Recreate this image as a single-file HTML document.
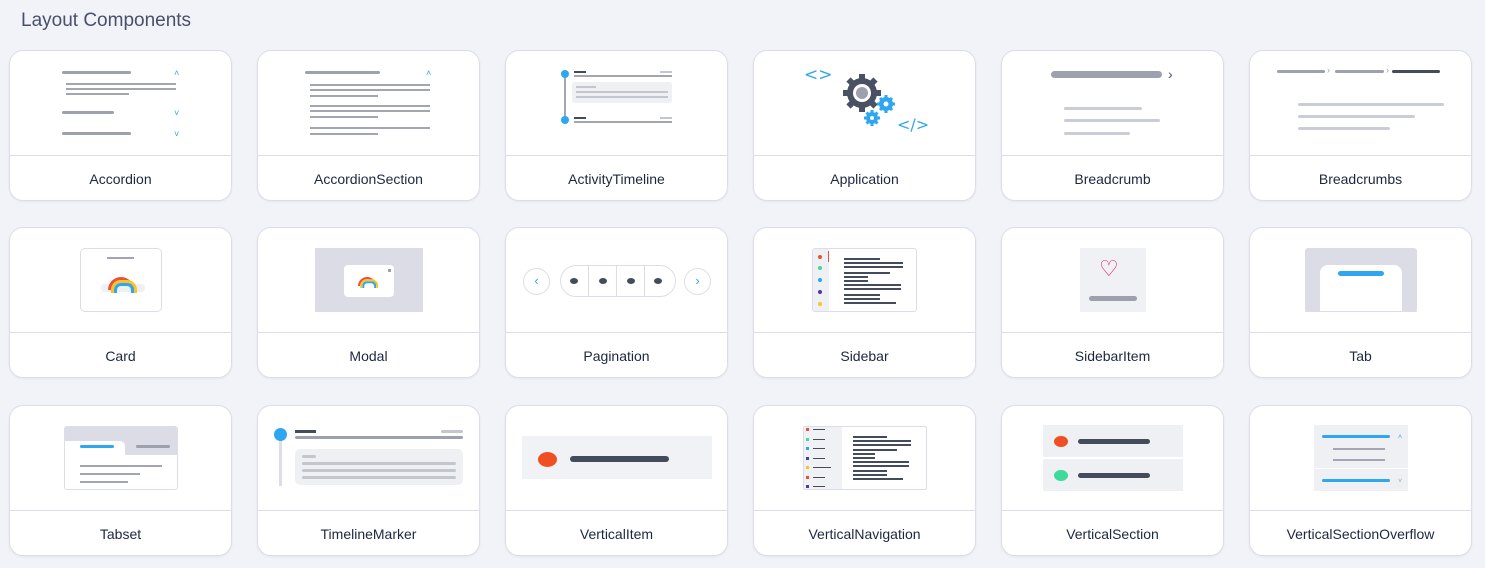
<!DOCTYPE html>
<html><head><meta charset="utf-8"><style>
*{margin:0;padding:0;box-sizing:border-box}
body{width:1485px;height:568px;background:#f1f3f8;font-family:"Liberation Sans",sans-serif;position:relative;overflow:hidden}
h1{position:absolute;left:21px;top:10px;font-size:19px;font-weight:normal;color:#48516a}
.c{position:absolute;width:223px;height:151px;background:#fff;border:1px solid #dcdde8;border-radius:14px;box-shadow:0 1px 2px rgba(0,0,0,.06)}
.c .d{position:absolute;left:0;right:0;top:104px;border-top:1px solid #dcdde8}
.c .l{position:absolute;left:0;right:0;top:120px;text-align:center;font-size:14px;color:#1d2740}
.r{position:absolute}
.g{position:absolute;height:3px;background:#9da0ad;border-radius:2px}
.t{position:absolute;height:2px;background:#a3a6b2}
.k{position:absolute;height:2px;background:#444c5c}
.b{position:absolute;color:#2ea7f0;font-size:9px;line-height:9px}
.rb{position:absolute;width:26px;height:13px;border-radius:13px 13px 0 0;border:3px solid #f04e36;border-bottom:0}
.rb:before{content:"";position:absolute;left:0;top:0;width:20px;height:10px;border-radius:10px 10px 0 0;border:3px solid #f7c524;border-bottom:0}
.rb:after{content:"";position:absolute;left:3px;top:3px;width:14px;height:7px;border-radius:7px 7px 0 0;border:3px solid #2ea7f0;border-bottom:0}
</style></head><body>
<h1>Layout Components</h1>

<!-- Row 1 -->
<div class="c" style="left:9px;top:50px">
<div class="g" style="left:52px;width:69px;top:20px"></div><div class="b" style="left:164px;top:18px">˄</div>
<div class="t" style="left:56px;width:110px;top:32px"></div><div class="t" style="left:56px;width:110px;top:37px"></div><div class="t" style="left:56px;width:63px;top:42px"></div>
<div class="g" style="left:52px;width:52px;top:60px"></div><div class="b" style="left:164px;top:58px">˅</div>
<div class="g" style="left:52px;width:69px;top:81px"></div><div class="b" style="left:164px;top:79px">˅</div>
<div class="d"></div><div class="l">Accordion</div></div>

<div class="c" style="left:257px;top:50px">
<div class="g" style="left:47px;width:75px;top:20px"></div><div class="b" style="left:168px;top:18px">˄</div>
<div class="t" style="left:52px;width:120px;top:33px"></div><div class="t" style="left:52px;width:120px;top:38px"></div><div class="t" style="left:52px;width:68px;top:44px"></div>
<div class="t" style="left:52px;width:120px;top:54px"></div><div class="t" style="left:52px;width:120px;top:59px"></div><div class="t" style="left:52px;width:68px;top:65px"></div>
<div class="t" style="left:52px;width:120px;top:76px"></div><div class="t" style="left:52px;width:68px;top:82px"></div>
<div class="d"></div><div class="l">AccordionSection</div></div>

<div class="c" style="left:505px;top:50px">
<div class="r" style="left:58px;top:22px;width:2px;height:48px;background:#a3a6b2"></div>
<div class="r" style="left:55px;top:19px;width:8px;height:8px;border-radius:50%;background:#2ea7f0"></div>
<div class="r" style="left:55px;top:65px;width:8px;height:8px;border-radius:50%;background:#2ea7f0"></div>
<div class="k" style="left:68px;width:12px;top:20px"></div><div class="t" style="left:68px;width:98px;top:24px"></div>
<div class="t" style="left:154px;width:12px;top:20px;background:#c4c6ce"></div>
<div class="r" style="left:66px;top:31px;width:100px;height:21px;background:#eef0f4;border-radius:3px"></div>
<div class="t" style="left:70px;width:20px;top:35px;background:#c4c6ce"></div><div class="t" style="left:70px;width:92px;top:40px;background:#c4c6ce"></div><div class="t" style="left:70px;width:92px;top:45px;background:#c4c6ce"></div>
<div class="k" style="left:68px;width:12px;top:66px"></div><div class="t" style="left:68px;width:98px;top:70px"></div>
<div class="t" style="left:154px;width:12px;top:66px;background:#c4c6ce"></div>
<div class="d"></div><div class="l">ActivityTimeline</div></div>

<div class="c" style="left:753px;top:50px">
<div class="r" style="left:50px;top:14px;color:#2ea7f0;font-size:17px;font-family:'DejaVu Sans',sans-serif">&lt;&gt;</div>
<svg class="r" style="left:86px;top:20px" width="60" height="60" viewBox="0 0 60 60">
<g fill="#4a5162"><circle cx="22" cy="22" r="15"/>
<g stroke="#4a5162" stroke-width="6"><line x1="22" y1="3" x2="22" y2="41"/><line x1="3" y1="22" x2="41" y2="22"/><line x1="8.5" y1="8.5" x2="35.5" y2="35.5"/><line x1="35.5" y1="8.5" x2="8.5" y2="35.5"/></g></g>
<circle cx="22" cy="22" r="9" fill="#fff"/><circle cx="22" cy="22" r="6" fill="#9da0ad"/>
<g fill="#2ea7f0"><circle cx="46" cy="33" r="7"/><g stroke="#2ea7f0" stroke-width="3"><line x1="46" y1="24" x2="46" y2="42"/><line x1="37" y1="33" x2="55" y2="33"/><line x1="40" y1="27" x2="52" y2="39"/><line x1="52" y1="27" x2="40" y2="39"/></g>
<circle cx="32" cy="47" r="6"/><g stroke="#2ea7f0" stroke-width="3"><line x1="32" y1="39" x2="32" y2="55"/><line x1="24" y1="47" x2="40" y2="47"/><line x1="26.5" y1="41.5" x2="37.5" y2="52.5"/><line x1="37.5" y1="41.5" x2="26.5" y2="52.5"/></g></g>
<circle cx="46" cy="33" r="2.5" fill="#fff"/><circle cx="32" cy="47" r="2" fill="#fff"/></svg>
<div class="r" style="left:143px;top:64px;color:#2ea7f0;font-size:16px;font-family:'DejaVu Sans',sans-serif">&lt;/&gt;</div>
<div class="d"></div><div class="l">Application</div></div>

<div class="c" style="left:1001px;top:50px">
<div class="r" style="left:49px;top:20px;width:111px;height:7px;border-radius:4px;background:#9da0ad"></div>
<div class="r" style="left:166px;top:15px;font-size:14px;color:#444c5c">›</div>
<div class="g" style="left:62px;width:78px;top:56px;background:#cbcdd6"></div>
<div class="g" style="left:62px;width:96px;top:68px;background:#cbcdd6"></div>
<div class="g" style="left:62px;width:66px;top:81px;background:#cbcdd6"></div>
<div class="d"></div><div class="l">Breadcrumb</div></div>

<div class="c" style="left:1249px;top:50px">
<div class="g" style="left:27px;width:48px;top:19px"></div><div class="r" style="left:77px;top:14px;font-size:9px;color:#9da0ad">›</div>
<div class="g" style="left:85px;width:49px;top:19px"></div><div class="r" style="left:136px;top:14px;font-size:9px;color:#9da0ad">›</div>
<div class="g" style="left:142px;width:48px;top:19px;background:#444c5c"></div>
<div class="g" style="left:48px;width:146px;top:52px;background:#cbcdd6"></div>
<div class="g" style="left:48px;width:117px;top:64px;background:#cbcdd6"></div>
<div class="g" style="left:48px;width:92px;top:76px;background:#cbcdd6"></div>
<div class="d"></div><div class="l">Breadcrumbs</div></div>

<!-- Row 2 -->
<div class="c" style="left:9px;top:227px">
<div class="r" style="left:70px;top:20px;width:82px;height:64px;border:1px solid #dcdde8;border-radius:5px"></div>
<div class="t" style="left:97px;width:27px;top:29px"></div>
<div class="r" style="left:91px;top:56px;width:44px;height:8px;background:#eef0f4;border-radius:4px"></div>
<div class="rb" style="left:98px;top:49px"></div>
<div class="d"></div><div class="l">Card</div></div>

<div class="c" style="left:257px;top:227px">
<div class="r" style="left:57px;top:20px;width:108px;height:64px;background:#dcdce6"></div>
<div class="r" style="left:86px;top:37px;width:50px;height:32px;background:#fff;border-radius:4px"></div>
<div class="r" style="left:130px;top:41px;width:3px;height:3px;background:#9da0ad"></div>
<div class="rb" style="left:100px;top:49px;transform:scale(.7);transform-origin:top left"></div>
<div class="d"></div><div class="l">Modal</div></div>

<div class="c" style="left:505px;top:227px">
<div class="r" style="left:17px;top:40px;width:27px;height:27px;border:1px solid #dcdde8;border-radius:50%;color:#2ea7f0;font-size:13px;text-align:center;line-height:24px">‹</div>
<div class="r" style="left:54px;top:37px;width:116px;height:32px;border:1px solid #dcdde8;border-radius:16px"></div>
<div class="r" style="left:82px;top:38px;height:30px;border-left:1px solid #dcdde8"></div>
<div class="r" style="left:110px;top:38px;height:30px;border-left:1px solid #dcdde8"></div>
<div class="r" style="left:138px;top:38px;height:30px;border-left:1px solid #dcdde8"></div>
<div class="r" style="left:64px;top:50px;width:8px;height:6px;border-radius:50%;background:#444c5c"></div>
<div class="r" style="left:93px;top:50px;width:8px;height:6px;border-radius:50%;background:#444c5c"></div>
<div class="r" style="left:121px;top:50px;width:8px;height:6px;border-radius:50%;background:#444c5c"></div>
<div class="r" style="left:148px;top:50px;width:8px;height:6px;border-radius:50%;background:#444c5c"></div>
<div class="r" style="left:178px;top:40px;width:27px;height:27px;border:1px solid #dcdde8;border-radius:50%;color:#2ea7f0;font-size:13px;text-align:center;line-height:24px">›</div>
<div class="d"></div><div class="l">Pagination</div></div>

<div class="c" style="left:753px;top:227px">
<div class="r" style="left:58px;top:20px;width:105px;height:64px;border:1px solid #dcdde8;border-radius:3px;overflow:hidden"><div class="r" style="left:0;top:0;width:16px;height:64px;background:#eef0f4"></div></div>
<div class="r" style="left:64px;top:27px;width:4px;height:4px;border-radius:50%;background:#f04e36"></div>
<div class="r" style="left:74px;top:23px;width:1px;height:11px;background:#f04e36"></div>
<div class="r" style="left:64px;top:38px;width:4px;height:4px;border-radius:50%;background:#3fd99a"></div>
<div class="r" style="left:64px;top:50px;width:4px;height:4px;border-radius:50%;background:#2ea7f0"></div>
<div class="r" style="left:64px;top:62px;width:4px;height:4px;border-radius:50%;background:#4b3aa6"></div>
<div class="r" style="left:64px;top:74px;width:4px;height:4px;border-radius:50%;background:#f7c524"></div>
<div class="k" style="left:90px;width:36px;top:30px"></div><div class="k" style="left:90px;width:59px;top:34px"></div><div class="k" style="left:90px;width:59px;top:38px"></div>
<div class="k" style="left:90px;width:46px;top:44px"></div><div class="k" style="left:90px;width:24px;top:48px"></div><div class="k" style="left:90px;width:24px;top:52px"></div>
<div class="k" style="left:90px;width:57px;top:56px"></div><div class="k" style="left:90px;width:57px;top:60px"></div>
<div class="k" style="left:90px;width:36px;top:66px"></div><div class="k" style="left:90px;width:36px;top:70px"></div><div class="k" style="left:90px;width:52px;top:74px"></div>
<div class="d"></div><div class="l">Sidebar</div></div>

<div class="c" style="left:1001px;top:227px">
<div class="r" style="left:78px;top:20px;width:66px;height:64px;background:#f0f1f5"></div>
<div class="r" style="left:97px;top:31px;font-size:22px;line-height:22px;color:#e0245e;font-family:'DejaVu Sans',sans-serif">♡</div>
<div class="r" style="left:87px;top:68px;width:48px;height:5px;border-radius:3px;background:#9da0ad"></div>
<div class="d"></div><div class="l">SidebarItem</div></div>

<div class="c" style="left:1249px;top:227px">
<div class="r" style="left:55px;top:20px;width:112px;height:64px;background:#dcdce6;border-radius:3px"></div>
<div class="r" style="left:70px;top:37px;width:82px;height:47px;background:#fff;border-radius:8px 8px 0 0"></div>
<div class="r" style="left:55px;top:83px;width:112px;height:1px;background:#dcdde8"></div>
<div class="r" style="left:88px;top:43px;width:46px;height:5px;border-radius:3px;background:#2ea7f0"></div>
<div class="d"></div><div class="l">Tab</div></div>

<!-- Row 3 -->
<div class="c" style="left:9px;top:405px">
<div class="r" style="left:54px;top:20px;width:114px;height:64px;border:1px solid #dcdde8;border-radius:3px;overflow:hidden"><div class="r" style="left:0;top:0;width:114px;height:28px;background:#dcdce6"></div><div class="r" style="left:0;top:14px;width:60px;height:20px;background:#fff;border-radius:0 5px 0 0"></div></div>
<div class="g" style="left:70px;width:34px;top:39px;background:#2ea7f0"></div>
<div class="g" style="left:126px;width:34px;top:39px"></div>
<div class="t" style="left:70px;width:82px;top:59px"></div><div class="t" style="left:70px;width:60px;top:67px"></div><div class="t" style="left:70px;width:48px;top:75px"></div>
<div class="d"></div><div class="l">Tabset</div></div>

<div class="c" style="left:257px;top:405px">
<div class="r" style="left:21px;top:28px;width:3px;height:52px;background:#dcdde8"></div>
<div class="r" style="left:16px;top:22px;width:13px;height:13px;border-radius:50%;background:#2ea7f0"></div>
<div class="k" style="left:37px;width:21px;top:24px;height:3px"></div>
<div class="g" style="left:37px;width:168px;top:30px"></div>
<div class="g" style="left:183px;width:22px;top:24px;background:#c4c6ce"></div>
<div class="r" style="left:37px;top:43px;width:168px;height:36px;background:#eef0f4;border-radius:5px"></div>
<div class="g" style="left:44px;width:14px;top:49px;background:#c4c6ce"></div>
<div class="g" style="left:44px;width:154px;top:56px;background:#c4c6ce"></div>
<div class="g" style="left:44px;width:154px;top:63px;background:#c4c6ce"></div>
<div class="g" style="left:44px;width:154px;top:70px;background:#c4c6ce"></div>
<div class="d"></div><div class="l">TimelineMarker</div></div>

<div class="c" style="left:505px;top:405px">
<div class="r" style="left:16px;top:30px;width:190px;height:43px;background:#f0f2f6"></div>
<div class="r" style="left:32px;top:46px;width:19px;height:15px;border-radius:50%;background:#f04e23"></div>
<div class="r" style="left:64px;top:50px;width:99px;height:6px;border-radius:3px;background:#444c5c"></div>
<div class="d"></div><div class="l">VerticalItem</div></div>

<div class="c" style="left:753px;top:405px">
<div class="r" style="left:49px;top:20px;width:124px;height:64px;border:1px solid #dcdde8;border-radius:2px;overflow:hidden"><div class="r" style="left:0;top:0;width:38px;height:64px;background:#f0f1f5"></div></div>
<div class="r" style="left:52px;top:22px;width:3px;height:3px;background:#f04e36"></div><div class="k" style="left:59px;width:12px;top:23px;height:1px"></div>
<div class="r" style="left:52px;top:32px;width:3px;height:3px;background:#3fd99a"></div><div class="k" style="left:59px;width:12px;top:33px;height:1px"></div>
<div class="r" style="left:52px;top:41px;width:3px;height:3px;background:#2ea7f0"></div><div class="k" style="left:59px;width:12px;top:42px;height:1px"></div>
<div class="r" style="left:52px;top:51px;width:3px;height:3px;background:#4b3aa6"></div><div class="k" style="left:59px;width:12px;top:52px;height:1px"></div>
<div class="r" style="left:52px;top:60px;width:3px;height:3px;background:#f7c524"></div><div class="k" style="left:59px;width:18px;top:61px;height:1px"></div>
<div class="r" style="left:52px;top:70px;width:3px;height:3px;background:#f04e36"></div><div class="k" style="left:59px;width:12px;top:71px;height:1px"></div>
<div class="r" style="left:52px;top:79px;width:3px;height:3px;background:#4b3aa6"></div><div class="k" style="left:59px;width:12px;top:80px;height:1px"></div>
<div class="k" style="left:99px;width:34px;top:30px"></div><div class="k" style="left:99px;width:58px;top:34px"></div><div class="k" style="left:99px;width:58px;top:38px"></div>
<div class="k" style="left:99px;width:44px;top:43px"></div><div class="k" style="left:99px;width:22px;top:47px"></div><div class="k" style="left:99px;width:22px;top:51px"></div>
<div class="k" style="left:99px;width:56px;top:55px"></div><div class="k" style="left:99px;width:56px;top:59px"></div>
<div class="k" style="left:99px;width:34px;top:64px"></div><div class="k" style="left:99px;width:34px;top:68px"></div><div class="k" style="left:99px;width:50px;top:72px"></div>
<div class="d"></div><div class="l">VerticalNavigation</div></div>

<div class="c" style="left:1001px;top:405px">
<div class="r" style="left:41px;top:19px;width:140px;height:32px;background:#eef0f4"></div>
<div class="r" style="left:41px;top:53px;width:140px;height:32px;background:#eef0f4"></div>
<div class="r" style="left:52px;top:30px;width:14px;height:11px;border-radius:50%;background:#f04e23"></div>
<div class="r" style="left:76px;top:33px;width:72px;height:5px;border-radius:3px;background:#444c5c"></div>
<div class="r" style="left:52px;top:64px;width:14px;height:11px;border-radius:50%;background:#3fd99a"></div>
<div class="r" style="left:76px;top:67px;width:72px;height:5px;border-radius:3px;background:#444c5c"></div>
<div class="d"></div><div class="l">VerticalSection</div></div>

<div class="c" style="left:1249px;top:405px">
<div class="r" style="left:64px;top:19px;width:94px;height:66px;background:#eef0f4"></div>
<div class="r" style="left:64px;top:62px;width:94px;height:1px;background:#fff"></div>
<div class="g" style="left:72px;width:68px;top:29px;background:#2ea7f0"></div><div class="b" style="left:148px;top:27px;font-size:7px">˄</div>
<div class="t" style="left:83px;width:52px;top:42px"></div>
<div class="t" style="left:83px;width:52px;top:53px"></div>
<div class="g" style="left:72px;width:68px;top:73px;background:#2ea7f0"></div><div class="b" style="left:148px;top:71px;font-size:7px;color:#9da0ad">˅</div>
<div class="d"></div><div class="l">VerticalSectionOverflow</div></div>
</body></html>
